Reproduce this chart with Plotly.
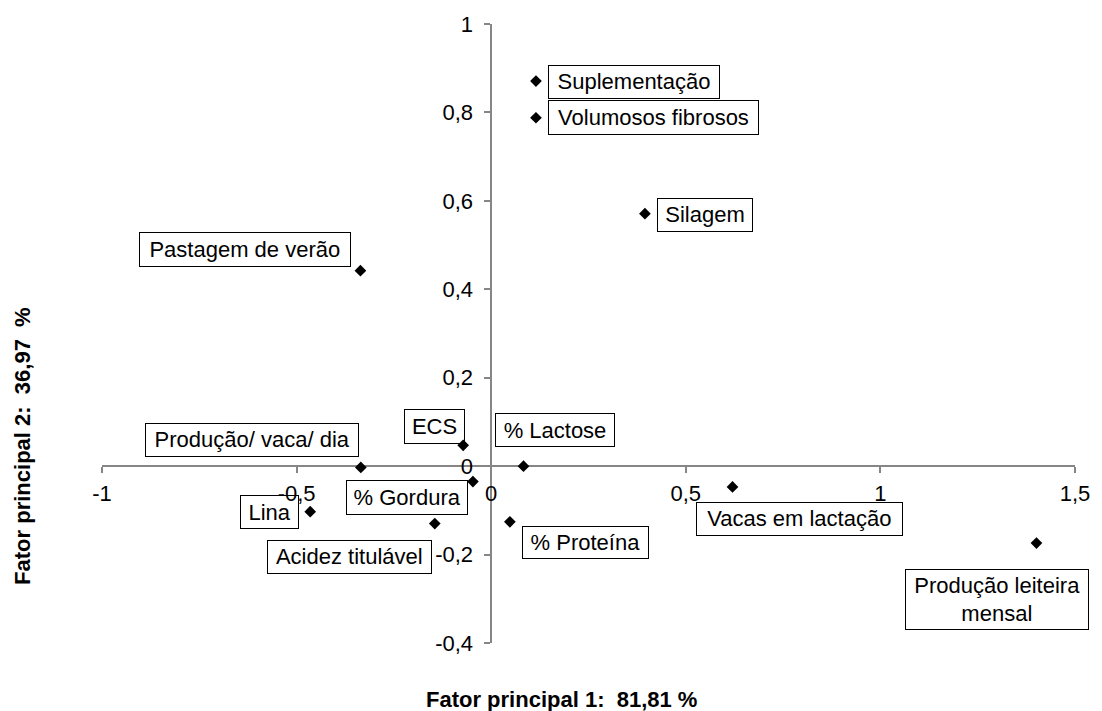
import plotly.graph_objects as go

# ---- data ----
labels = ["Suplementação", "Volumosos fibrosos", "Silagem", "Pastagem de verão",
          "Produção/ vaca/ dia", "ECS", "% Lactose", "% Gordura", "Lina",
          "Acidez titulável", "% Proteína", "Vacas em lactação",
          "Produção leiteira<br>mensal"]
factor1 = [0.115, 0.115, 0.395, -0.336, -0.335, -0.072, 0.083, -0.047, -0.465,
           -0.145, 0.048, 0.620, 1.401]
factor2 = [0.871, 0.788, 0.571, 0.442, -0.003, 0.047, 0.000, -0.035, -0.103,
           -0.130, -0.126, -0.047, -0.174]

x_tick_vals = [-1, -0.5, 0, 0.5, 1, 1.5]
x_tick_text = ["-1", "-0,5", "0", "0,5", "1", "1,5"]
y_tick_vals = [-0.4, -0.2, 0, 0.2, 0.4, 0.6, 0.8, 1]
y_tick_text = ["-0,4", "-0,2", "0", "0,2", "0,4", "0,6", "0,8", "1"]
x_title = "Fator principal 1:\u00a0 81,81 %"
y_title = "Fator principal 2:\u00a0 36,97 \u00a0%"

# ---- label box layout (pixel offsets from point, box sizes) ----
label_dx = [97.9, 117.4, 59.9, -115.3, -108.7, -28.7, 31.8, -66.0, -40.9, -84.8, 75.5, 66.8, -39.3]
label_dy = [1.0, 0.0, 1.7, -21.0, -27.0, -18.8, -36.0, 15.6, 0.0, 33.6, 20.5, 32.0, 56.9]
box_w = [171, 210, 95, 210.6, 213.4, 60, 119, 121.3, 58.3, 163.6, 125.7, 205.6, 183.4]
box_h = [32.6, 33.7, 32.7, 34, 32.7, 34.4, 33.4, 34, 33, 32.7, 31.6, 32.6, 59.7]

FONT = "Liberation Sans, Arial, sans-serif"
AXC = "#868686"

fig = go.Figure()
fig.add_trace(go.Scatter(
    x=factor1, y=factor2, mode="markers",
    marker=dict(symbol="diamond", size=9, color="black"),
    hoverinfo="skip", showlegend=False))

ann = []
for i, t in enumerate(labels):
    ann.append(dict(
        x=factor1[i], y=factor2[i], xref="x", yref="y", text=t, showarrow=False,
        xanchor="center", yanchor="middle", xshift=label_dx[i], yshift=-label_dy[i],
        width=box_w[i] - 3, height=box_h[i] - 3, align="center", valign="middle",
        bordercolor="black", borderwidth=1, borderpad=1,
        font=dict(family=FONT, size=22, color="black")))

ann.append(dict(x=0.472, y=-0.0908, xref="paper", yref="paper", text=x_title,
                showarrow=False, xanchor="center", yanchor="middle",
                font=dict(family=FONT, size=22, color="black", weight="bold")))
ann.append(dict(x=-0.0825, y=0.318, xref="paper", yref="paper", text=y_title,
                showarrow=False, xanchor="center", yanchor="middle", textangle=-90,
                font=dict(family=FONT, size=22, color="black", weight="bold")))

axis_common = dict(showgrid=False, zeroline=False, showline=True, linecolor=AXC,
                   linewidth=1.5, ticks="outside", ticklen=6, tickcolor=AXC,
                   tickwidth=1.5, tickfont=dict(family=FONT, size=22, color="black"),
                   layer="below traces", anchor="free")

fig.update_layout(
    width=1102, height=711, autosize=False,
    margin=dict(l=102, r=19, t=22, b=68, pad=0),
    paper_bgcolor="white", plot_bgcolor="white",
    font=dict(family=FONT, size=22, color="black"),
    xaxis=dict(range=[-1, 1.5], tickvals=x_tick_vals, ticktext=x_tick_text,
               position=0.4 / 1.4, ticklabelstandoff=2, **axis_common),
    yaxis=dict(range=[-0.4, 1], tickvals=y_tick_vals, ticktext=y_tick_text,
               position=1 / 2.5, ticklabelstandoff=7, **axis_common),
    annotations=ann,
)

fig.write_html("out.html")
